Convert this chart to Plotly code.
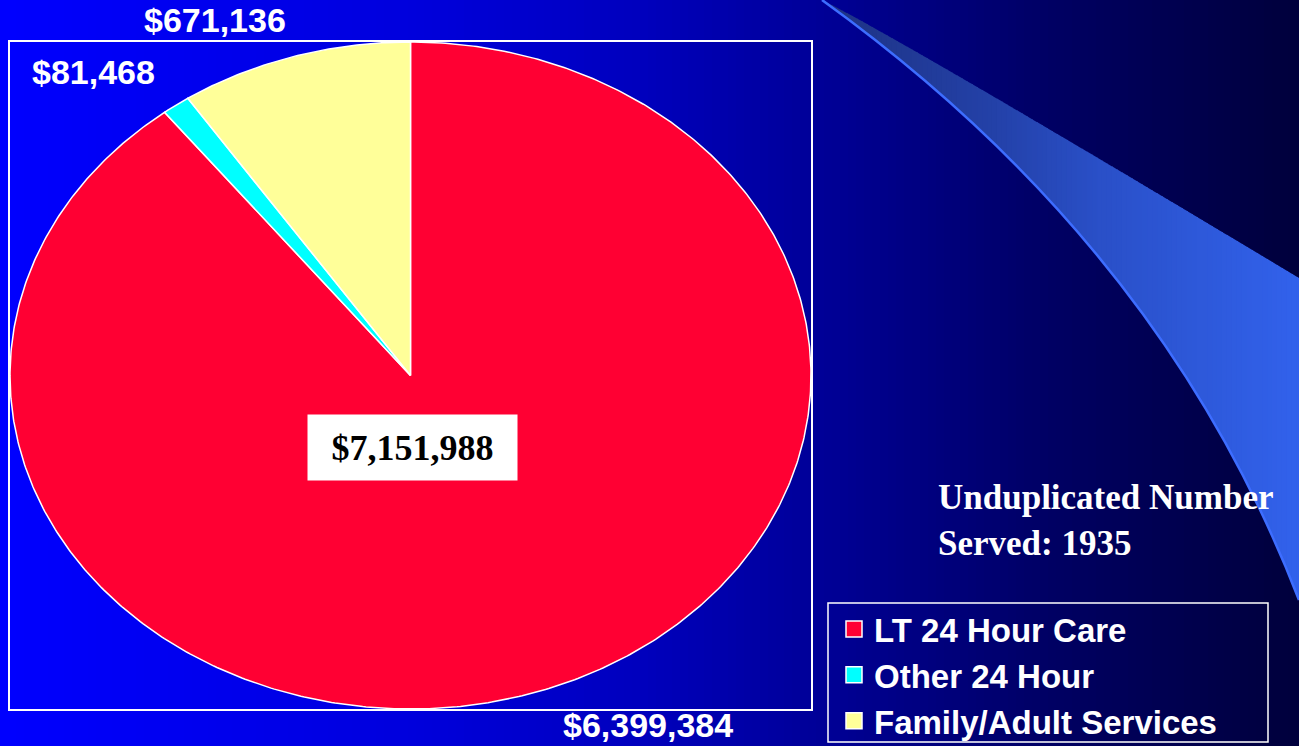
import numpy as np
import plotly.graph_objects as go

# ---------------- data ----------------
categories = ["LT 24 Hour Care", "Other 24 Hour", "Family/Adult Services"]
values = [6399384, 81468, 671136]
served_label = "Unduplicated Number<br>Served: 1935"

# ---------------- style ----------------
W, H = 1299, 746
slice_colors = ["#FF0033", "#00FFFF", "#FFFF99"]
SANS = "Liberation Sans"
SERIF = "Liberation Serif"

def px(x):
    return x / W

def py(y):
    return 1 - y / H

fig = go.Figure()

# ---- background horizontal gradient ----
bg_stops_x = [0, 400, 640, 850, 1050, 1299]
bg_stops_b = [255, 222, 190, 145, 100, 60]
shapes = []
step = 8
for x0 in range(0, W, step):
    b = int(np.interp(x0 + step / 2, bg_stops_x, bg_stops_b))
    shapes.append(dict(type="rect", xref="paper", yref="paper", layer="below",
                       x0=px(x0), x1=px(min(x0 + step + 1, W)), y0=-0.01, y1=1.01,
                       fillcolor=f"rgb(0,0,{b})", line=dict(width=0)))

# ---- decorative swoosh (quadratic Bezier edges) ----
def bez(p0, p1, p2, n=400):
    t = np.linspace(0, 1, n)[:, None]
    pts = (1 - t) ** 2 * np.array(p0) + 2 * (1 - t) * t * np.array(p1) + t ** 2 * np.array(p2)
    return pts[:, 0], pts[:, 1]

UP = [(822, 0), (904, 41), (1299, 278)]
LO = [(822, 0), (1162, 245), (1299, 600)]
ux, uy = bez(*UP)
lx, ly = bez(*LO)
sw_cx = [822, 1000, 1100, 1299]
sw_r = [30, 36, 42, 50]
sw_g = [50, 66, 80, 98]
sw_b = [130, 170, 200, 236]
sstep = 5
for x0 in range(822, W, sstep):
    x1 = min(x0 + sstep + 1, W)
    xm = (x0 + x1) / 2
    r = int(np.interp(xm, sw_cx, sw_r))
    g = int(np.interp(xm, sw_cx, sw_g))
    b = int(np.interp(xm, sw_cx, sw_b))
    pts = [(x0, np.interp(x0, ux, uy)), (x1, np.interp(x1, ux, uy)),
           (x1, np.interp(x1, lx, ly)), (x0, np.interp(x0, lx, ly))]
    path = "M " + " L ".join(f"{px(a):.5f},{py(c):.5f}" for a, c in pts) + " Z"
    shapes.append(dict(type="path", xref="paper", yref="paper", layer="below",
                       path=path, fillcolor=f"rgb({r},{g},{b})", line=dict(width=0)))
edge = (f"M {px(LO[0][0]):.5f},{py(LO[0][1]):.5f} "
        f"Q {px(LO[1][0]):.5f},{py(LO[1][1]):.5f} {px(LO[2][0]):.5f},{py(LO[2][1]):.5f}")
shapes.append(dict(type="path", xref="paper", yref="paper", layer="below",
                   path=edge, line=dict(color="#3D6DFF", width=2.5)))

# ---- legend frame ----
shapes.append(dict(type="rect", xref="paper", yref="paper", layer="above",
                   x0=px(828), x1=px(1268), y0=py(742), y1=py(603),
                   line=dict(color="white", width=1.5), fillcolor="rgba(0,0,0,0)"))

# ---- pie drawn as an ellipse (stretched axes) ----
total = sum(values)
fracs = np.array(values) / total
starts = np.concatenate([[0], np.cumsum(fracs)[:-1]])
for cat, f, s, col in zip(categories, fracs, starts, slice_colors):
    t = 2 * np.pi * np.linspace(s, s + f, max(int(f * 720), 8))
    xv = np.concatenate([[0], np.sin(t), [0]])
    yv = np.concatenate([[0], np.cos(t), [0]])
    fig.add_trace(go.Scatter(x=xv, y=yv, mode="lines", fill="toself",
                             fillcolor=col, line=dict(color="white", width=1.5),
                             hoverinfo="text", text=f"{cat}: ${total * f:,.0f}",
                             showlegend=False))

# legend entries
for cat, col in zip(categories, slice_colors):
    fig.add_trace(go.Scatter(x=[None], y=[None], mode="markers", name=cat,
                             marker=dict(symbol="square", size=16, color=col,
                                         line=dict(color="white", width=1.5))))

# ---- annotations ----
label_pos = {  # paper-pixel anchor of outside value labels (x centre, y, yanchor)
    "LT 24 Hour Care": (648, 746, "bottom"),
    "Other 24 Hour": (93, 72, "middle"),
    "Family/Adult Services": (215, 20, "middle"),
}
annotations = []
for cat, v in zip(categories, values):
    lx_, ly_, ya = label_pos[cat]
    annotations.append(dict(xref="paper", yref="paper", x=px(lx_), y=py(ly_),
                            text=f"<b>${v:,}</b>", showarrow=False,
                            xanchor="center", yanchor=ya,
                            font=dict(family=SANS, size=34, color="white")))
annotations.append(dict(xref="paper", yref="paper", x=px(412.5), y=py(447.5),
                        text=f"<b>${total:,}</b>", showarrow=False,
                        xanchor="center", yanchor="middle", bgcolor="white",
                        width=205, height=61, borderpad=2,
                        font=dict(family=SERIF, size=36, color="black")))
annotations.append(dict(xref="paper", yref="paper", x=px(936), y=py(520),
                        text=f"<b>{served_label}</b>", showarrow=False,
                        xanchor="left", yanchor="middle", align="left",
                        font=dict(family=SERIF, size=35, color="white")))

fig.update_layout(
    width=W, height=H, margin=dict(l=0, r=0, t=0, b=0, autoexpand=False),
    paper_bgcolor="#000060", plot_bgcolor="rgba(0,0,0,0)",
    shapes=shapes, annotations=annotations,
    xaxis=dict(domain=[px(10), px(811)], range=[-1, 1], showgrid=False,
               zeroline=False, showticklabels=False, ticks="",
               showline=True, mirror=True, linecolor="white", linewidth=1.5,
               fixedrange=True),
    yaxis=dict(domain=[py(709), py(42)], range=[-1, 1], showgrid=False,
               zeroline=False, showticklabels=False, ticks="",
               showline=True, mirror=True, linecolor="white", linewidth=1.5,
               fixedrange=True),
    showlegend=True,
    legend=dict(x=px(834), y=py(601), xanchor="left", yanchor="top",
                bgcolor="rgba(0,0,0,0)", borderwidth=0,
                font=dict(family=SANS, size=33, color="white", weight="bold"),
                itemsizing="trace"),
)

fig.write_html("out.html", config={"displayModeBar": False},
               post_script="document.body.style.margin='0';"
                           "document.body.style.background='#000040';")
